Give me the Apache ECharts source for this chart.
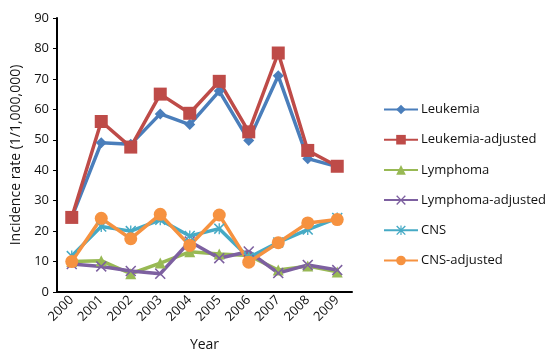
<!DOCTYPE html>
<html><head><meta charset="utf-8">
<script src="https://cdn.jsdelivr.net/npm/echarts@6/dist/echarts.min.js"></script>
<style>html,body{margin:0;padding:0;background:#fff}#c{width:554px;height:358px}</style>
</head><body><div id="c"></div>
<script>
const years = ['2000','2001','2002','2003','2004','2005','2006','2007','2008','2009'];
const leukemia = [24.5, 49, 48.5, 58.5, 55, 66, 49.8, 71, 43.8, 41.2];
const leukemiaAdj = [24.5, 56, 47.6, 65, 58.7, 69.2, 52.6, 78.5, 46.5, 41.3];
const lymphoma = [10, 10.3, 6, 9.5, 13.2, 12.5, 12, 7.2, 8.5, 6.6];
const lymphomaAdj = [9.2, 8.4, 6.9, 6, 16.6, 11.1, 13.3, 6.2, 8.9, 7.2];
const cns = [11.8, 21.5, 20, 23.7, 18.4, 20.8, 11.3, 16.3, 20.5, 24.3];
const cnsAdj = [10, 24.2, 17.5, 25.5, 15.3, 25.3, 9.8, 16.2, 22.7, 23.8];
const yTicks = {min: 0, max: 90, interval: 10};

const X = 'path://M0,1 L1,0 L5,4 L9,0 L10,1 L6,5 L10,9 L9,10 L5,6 L1,10 L0,9 L4,5 Z';
const AST = 'path://M0,1 L1,0 L5,4 L9,0 L10,1 L6,5 L10,9 L9,10 L5,6 L1,10 L0,9 L4,5 Z M4.4,0 L5.6,0 L5.6,10 L4.4,10 Z';
const font = 'Open Sans';
function s(name, data, color, symbol, size) {
  return {name, type: 'line', data, symbol, symbolSize: size, showAllSymbol: true,
    lineStyle: {color, width: 3.5}, itemStyle: {color, borderWidth: 0}, emphasis: {disabled: true}};
}
const chart = echarts.init(document.getElementById('c'));
chart.setOption({
  animation: false,
  textStyle: {fontFamily: font},
  grid: {left: 57, right: 202, top: 18, bottom: 66, containLabel: false, outerBoundsMode: 'none'},
  legend: {orient: 'vertical', left: 378, top: 98, itemWidth: 34, itemHeight: 12, itemGap: 17.2,
    textStyle: {fontFamily: font, fontSize: 13, color: '#111', padding: [0,0,0,-2]}},
  xAxis: {type: 'category', data: years, boundaryGap: true,
    name: 'Year', nameLocation: 'middle', nameGap: 46, nameTextStyle: {fontSize: 14, color: '#111', fontFamily: font},
    axisLine: {lineStyle: {color: '#000', width: 2}},
    axisTick: {alignWithLabel: true, length: 4, lineStyle: {color: '#000', width: 1}},
    axisLabel: {rotate: 45, fontSize: 13, color: '#111', margin: 6, fontFamily: font}},
  yAxis: {type: 'value', min: yTicks.min, max: yTicks.max, interval: yTicks.interval,
    name: 'Incidence rate (1/1,000,000)', nameLocation: 'middle', nameGap: 33, nameRotate: 90,
    nameTextStyle: {fontSize: 14, color: '#111', fontFamily: font},
    axisLine: {show: true, lineStyle: {color: '#000', width: 2}},
    axisTick: {show: true, length: 4, lineStyle: {color: '#000', width: 1}},
    splitLine: {show: false},
    axisLabel: {fontSize: 13, color: '#111', margin: 8, fontFamily: font}},
  series: [
    s('Leukemia', leukemia, '#4A7EBB', 'diamond', 11),
    s('Leukemia-adjusted', leukemiaAdj, '#BE4B48', 'rect', 13),
    s('Lymphoma', lymphoma, '#98B954', 'triangle', 11),
    s('Lymphoma-adjusted', lymphomaAdj, '#7D60A0', X, 11),
    s('CNS', cns, '#46AAC5', AST, 11),
    s('CNS-adjusted', cnsAdj, '#F69240', 'circle', 13)
  ]
});
</script></body></html>
